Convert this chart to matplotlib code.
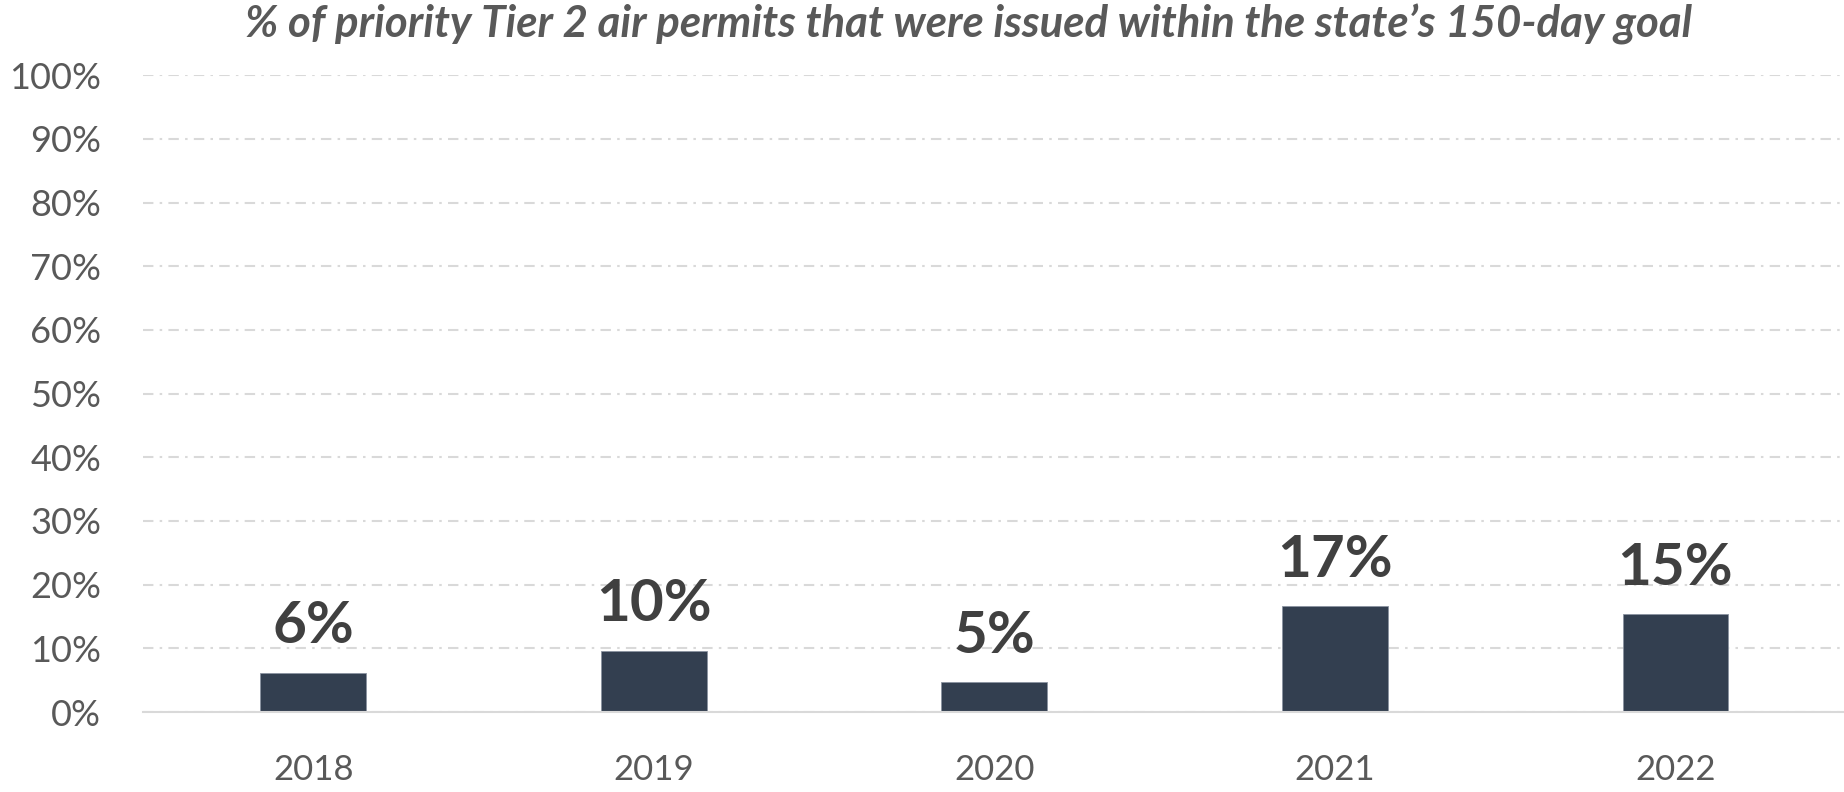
import matplotlib
matplotlib.use("Agg")
import matplotlib.pyplot as plt
from matplotlib.ticker import FuncFormatter

# data
years = ["2018", "2019", "2020", "2021", "2022"]
pct_within_goal = [6.2, 9.6, 4.7, 16.6, 15.4]
value_labels = ["6%", "10%", "5%", "17%", "15%"]

title = "% of priority Tier 2 air permits that were issued within the state\u2019s 150-day goal"

plt.rcParams["font.family"] = ["Lato", "DejaVu Sans"]

fig = plt.figure(figsize=(18.44, 7.92), dpi=100)
ax = fig.add_axes([0.0775, 0.101, 0.9234, 0.804])

x = range(len(years))
ax.bar(x, pct_within_goal, width=0.31, color="#333f50", edgecolor="#8a93a0",
       linewidth=0.6, zorder=3)

for xi, v, lab in zip(x, pct_within_goal, value_labels):
    ax.annotate(lab, (xi, v), xytext=(0, 14), textcoords="offset points",
                ha="center", va="bottom", fontsize=42, fontweight="bold",
                color="#404040")

ax.set_xlim(-0.5, len(years) - 0.5)
ax.set_ylim(0, 100)
ax.set_yticks(range(0, 101, 10))
ax.yaxis.set_major_formatter(FuncFormatter(lambda v, p: "%d%%" % v))
ax.set_xticks(list(x))
ax.set_xticklabels(years)

ax.tick_params(axis="y", length=0, pad=30, labelsize=26, labelcolor="#595959")
ax.tick_params(axis="x", length=0, pad=30, labelsize=25, labelcolor="#595959")

ax.grid(axis="y", color="#d9d9d9", linewidth=1.5, linestyle=(0, (5, 3, 1.2, 3)),
        zorder=0)
for s in ["top", "right", "left"]:
    ax.spines[s].set_visible(False)
ax.spines["bottom"].set_color("#d9d9d9")
ax.spines["bottom"].set_linewidth(1.5)
ax.spines["bottom"].set_zorder(4)

fig.text(0.525, 0.953, title, ha="center", va="baseline", fontsize=31.5,
         fontweight="bold", fontstyle="italic", color="#595959")

fig.savefig("out.png", dpi=100)
